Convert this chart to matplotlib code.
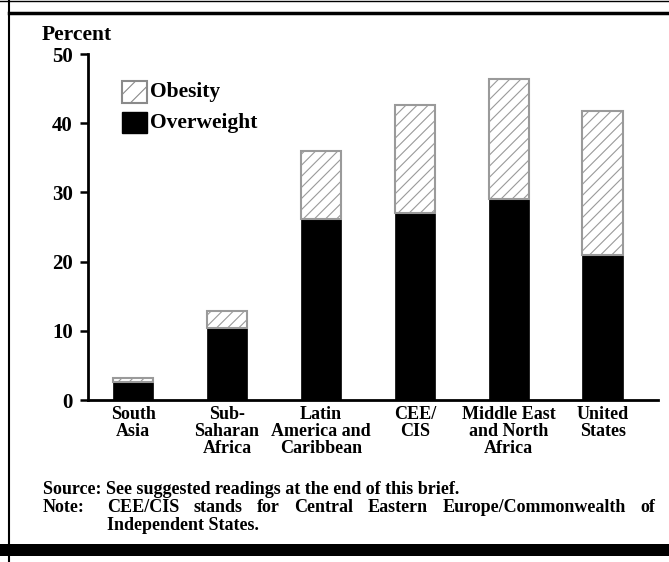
import matplotlib.pyplot as plt
from matplotlib.patches import Rectangle
from matplotlib.lines import Line2D

plt.rcParams['font.family'] = ['Liberation Serif', 'DejaVu Serif']
plt.rcParams['font.weight'] = 'bold'
plt.rcParams['hatch.color'] = '#9a9a9a'
plt.rcParams['hatch.linewidth'] = 0.8

regions = ['South\nAsia', 'Sub-\nSaharan\nAfrica', 'Latin\nAmerica and\nCaribbean',
           'CEE/\nCIS', 'Middle East\nand North\nAfrica', 'United\nStates']
overweight = [2.6, 10.4, 26.2, 27.0, 29.1, 21.0]
obesity = [0.6, 2.4, 9.8, 15.6, 17.3, 20.8]
yticks = [0, 10, 20, 30, 40, 50]

source = 'Source: See suggested readings at the end of this brief.'
note_words = ['CEE/CIS', 'stands', 'for', 'Central', 'Eastern', 'Europe/Commonwealth', 'of']

W, H = 669, 562
fig = plt.figure(figsize=(W / 100, H / 100), dpi=100)
ax = fig.add_axes([88 / W, 1 - 400 / H, (658 - 88) / W, (400 - 54) / H])

x = list(range(len(regions)))
ax.bar(x, overweight, width=0.43, color='black', edgecolor='black', linewidth=0.5)
ax.bar(x, obesity, width=0.43, bottom=overweight, color='white',
       edgecolor='#9a9a9a', linewidth=1.5, hatch='///')

ax.set_xlim(-0.48, 5.59)
ax.set_ylim(0, 50)
ax.set_yticks(yticks)
ax.set_xticks(x)
ax.set_xticklabels(regions, fontsize=13, linespacing=1.0)
ax.tick_params(axis='y', direction='out', length=6, width=1.8, labelsize=15, pad=5)
ax.tick_params(axis='x', length=0, pad=4)
for s in ['top', 'right']:
    ax.spines[s].set_visible(False)
ax.spines['left'].set_linewidth(2)
ax.spines['bottom'].set_linewidth(2)

# legend drawn by hand
fig.patches.append(Rectangle((122 / W, 1 - 103 / H), 25 / W, 22 / H, transform=fig.transFigure,
                             facecolor='white', edgecolor='#8a8a8a', linewidth=1.5, hatch='//'))
fig.patches.append(Rectangle((122 / W, 1 - 133 / H), 25 / W, 21 / H, transform=fig.transFigure,
                             facecolor='black', edgecolor='black'))
fig.text(150 / W, 1 - 97 / H, 'Obesity', fontsize=15.5, va='baseline')
fig.text(150 / W, 1 - 128 / H, 'Overweight', fontsize=15.5, va='baseline')

fig.text(42 / W, 1 - 40 / H, 'Percent', fontsize=15.5, va='baseline')

fig.text(43 / W, 1 - 494 / H, source, fontsize=13, va='baseline')
fig.text(43 / W, 1 - 512 / H, 'Note:', fontsize=13, va='baseline')
fig.text(107 / W, 1 - 530 / H, 'Independent States.', fontsize=13, va='baseline')

# justified note line
renderer = fig.canvas.get_renderer()
texts = [fig.text(0, 1 - 512 / H, w, fontsize=13, va='baseline') for w in note_words]
widths = [t.get_window_extent(renderer).width for t in texts]
gap = (655 - 107 - sum(widths)) / (len(texts) - 1)
pos = 107
for t, w in zip(texts, widths):
    t.set_x(pos / W)
    pos += w + gap

# frame
fig.add_artist(Line2D([0, 1], [1 - 0.5 / H] * 2, color='black', linewidth=1))
fig.add_artist(Line2D([9 / W, 1], [1 - 13 / H] * 2, color='black', linewidth=2.5))
fig.add_artist(Line2D([9 / W, 9 / W], [0, 1], color='black', linewidth=1.5))
fig.patches.append(Rectangle((0, 1 - 556 / H), 1, 12 / H, transform=fig.transFigure,
                             facecolor='black', edgecolor='none'))

fig.savefig('out.png', dpi=100)
